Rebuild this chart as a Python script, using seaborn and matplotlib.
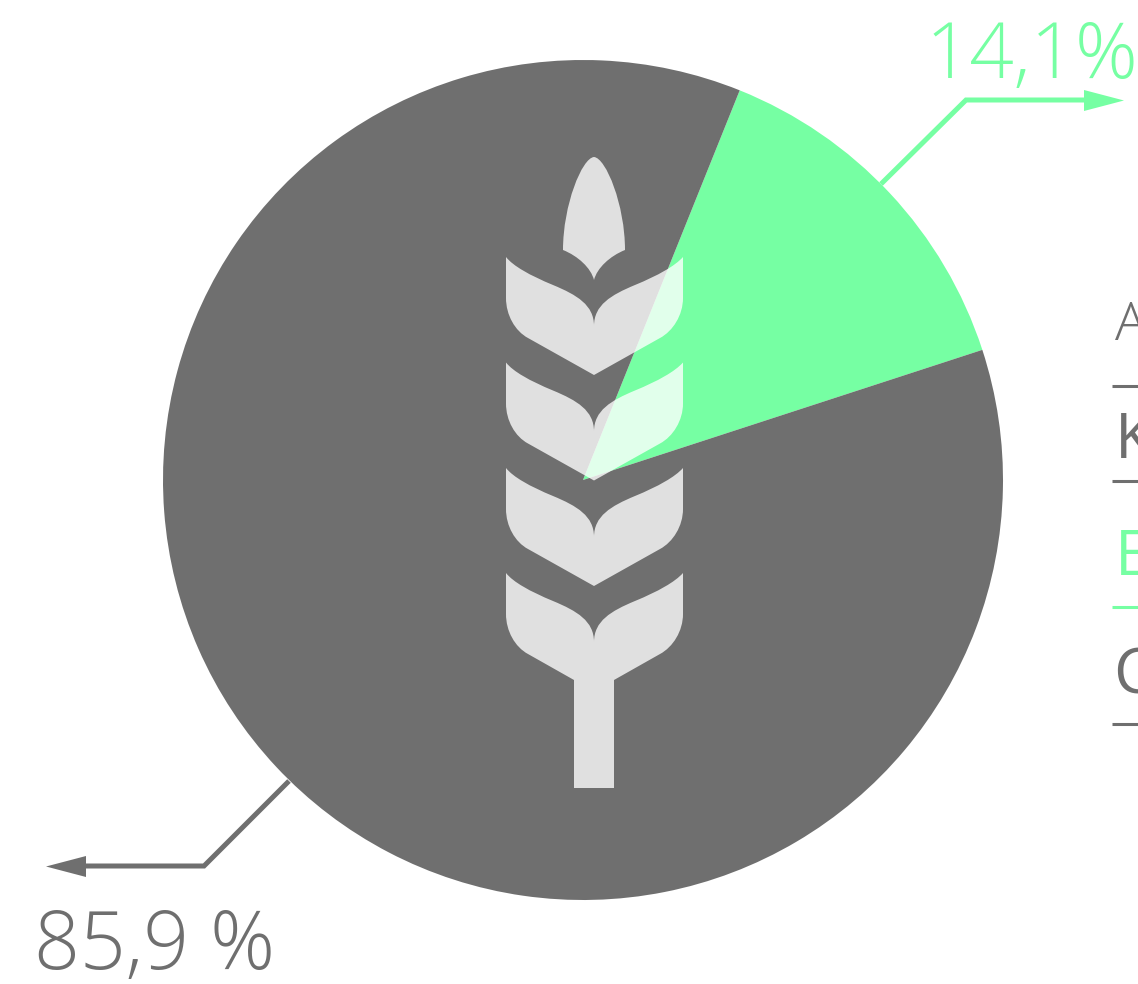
import seaborn as sns
import matplotlib.pyplot as plt
from matplotlib.path import Path
from matplotlib.patches import PathPatch

sns.set_theme(style="white")
plt.rcParams['font.family'] = ['Open Sans', 'DejaVu Sans']

# data
# the green wedge spans about 50 degrees in the picture, a little under its 14,1% label
shares = [13.9, 86.1]
share_labels = ["14,1%", "85,9 %"]
side_labels = ["A", "K", "E", "C"]
pal = sns.color_palette(["#76ffa3", "#6f6f6f"])
green, gray = pal[0], pal[1]

fig = plt.figure(figsize=(11.38, 9.84), dpi=100)
W, H = 1138.0, 984.0

# pie, 420px radius centred on (583, 480)
pie_ax = fig.add_axes([163 / W, 1 - 900 / H, 840 / W, 840 / H])
pie_ax.pie(shares, colors=pal, startangle=18.05, radius=1,
           wedgeprops={'linewidth': 0})
pie_ax.set_xlim(-1, 1)
pie_ax.set_ylim(-1, 1)

# overlay in pixel coordinates
ax = fig.add_axes([0, 0, 1, 1])
ax.set_xlim(0, W)
ax.set_ylim(H, 0)
ax.axis('off')
ax.patch.set_alpha(0)


def leaf(dy, stem=False):
    # one pair of leaves, symmetric around x=594
    v = [(506, 257), (513, 266), (530, 275.5), (553, 285),
         (577, 295), (594, 305), (594, 326),
         (594, 305), (611, 295), (635, 285),
         (658, 275.5), (675, 266), (683, 257),
         (683, 298)]
    c = [Path.MOVETO] + [Path.CURVE4] * 12 + [Path.LINETO]
    v += [(683, 315), (673, 331), (660, 338)]
    c += [Path.CURVE4] * 3
    if stem:
        # stem joins the lower edge of the leaves at y=680, ends at y=788
        v += [(614, 364), (614, 472), (574, 472), (574, 364)]
        c += [Path.LINETO] * 4
    else:
        v += [(594, 375)]
        c += [Path.LINETO]
    v += [(528, 338)]
    c += [Path.LINETO]
    v += [(515, 331), (506, 315), (506, 298)]
    c += [Path.CURVE4] * 3
    v += [(506, 257)]
    c += [Path.CLOSEPOLY]
    return Path([(x, y + dy) for x, y in v], c)


wheat = dict(facecolor='white', alpha=0.79, edgecolor='none', linewidth=0, zorder=3)

kernel = Path([(594, 157), (582, 158), (563, 205), (563, 250),
               (578, 256), (591, 268), (594, 280),
               (597, 268), (610, 256), (625, 250),
               (625, 205), (606, 158), (594, 157), (594, 157)],
              [Path.MOVETO] + [Path.CURVE4] * 12 + [Path.CLOSEPOLY])
ax.add_patch(PathPatch(kernel, **wheat))
for dy in [0, 105.5, 211]:
    ax.add_patch(PathPatch(leaf(dy), **wheat))
ax.add_patch(PathPatch(leaf(316, stem=True), **wheat))


def leader(xs, ys, head, color):
    ax.plot(xs, ys, color=color, lw=3.6, solid_capstyle='butt',
            solid_joinstyle='miter', zorder=4)
    ax.fill(*zip(*head), color=color, lw=0, zorder=4)


leader([881, 966, 1086], [184, 100, 100], [(1084, 90), (1124, 100.5), (1084, 111)], green)
leader([289, 204, 84], [781, 866, 866], [(86, 856), (46, 866.5), (86, 877)], gray)

ax.text(925, 78, share_labels[0], color=green, fontsize=56, fontweight='light',
        ha='left', va='baseline', clip_on=False)
ax.text(34, 969, share_labels[1], color=gray, fontsize=58, fontweight='light',
        ha='left', va='baseline', clip_on=False)

# side list, cut off by the right edge
label_x = [1115, 1115, 1115, 1113]
label_y = [340, 458, 575, 694]
label_size = [38, 45, 45, 45]
label_weight = ['light', 'normal', 'normal', 'normal']
label_col = [gray, gray, green, gray]
rule_y = [386, 481, 607, 724]
for t, x, y, s, w, col, ry in zip(side_labels, label_x, label_y, label_size, label_weight, label_col, rule_y):
    ax.text(x, y, t, color=col, fontsize=s, fontweight=w, ha='left', va='baseline')
    ax.plot([1112, 1138], [ry, ry], color=col, lw=2.2, solid_capstyle='butt')

plt.savefig('out.png', dpi=100)
